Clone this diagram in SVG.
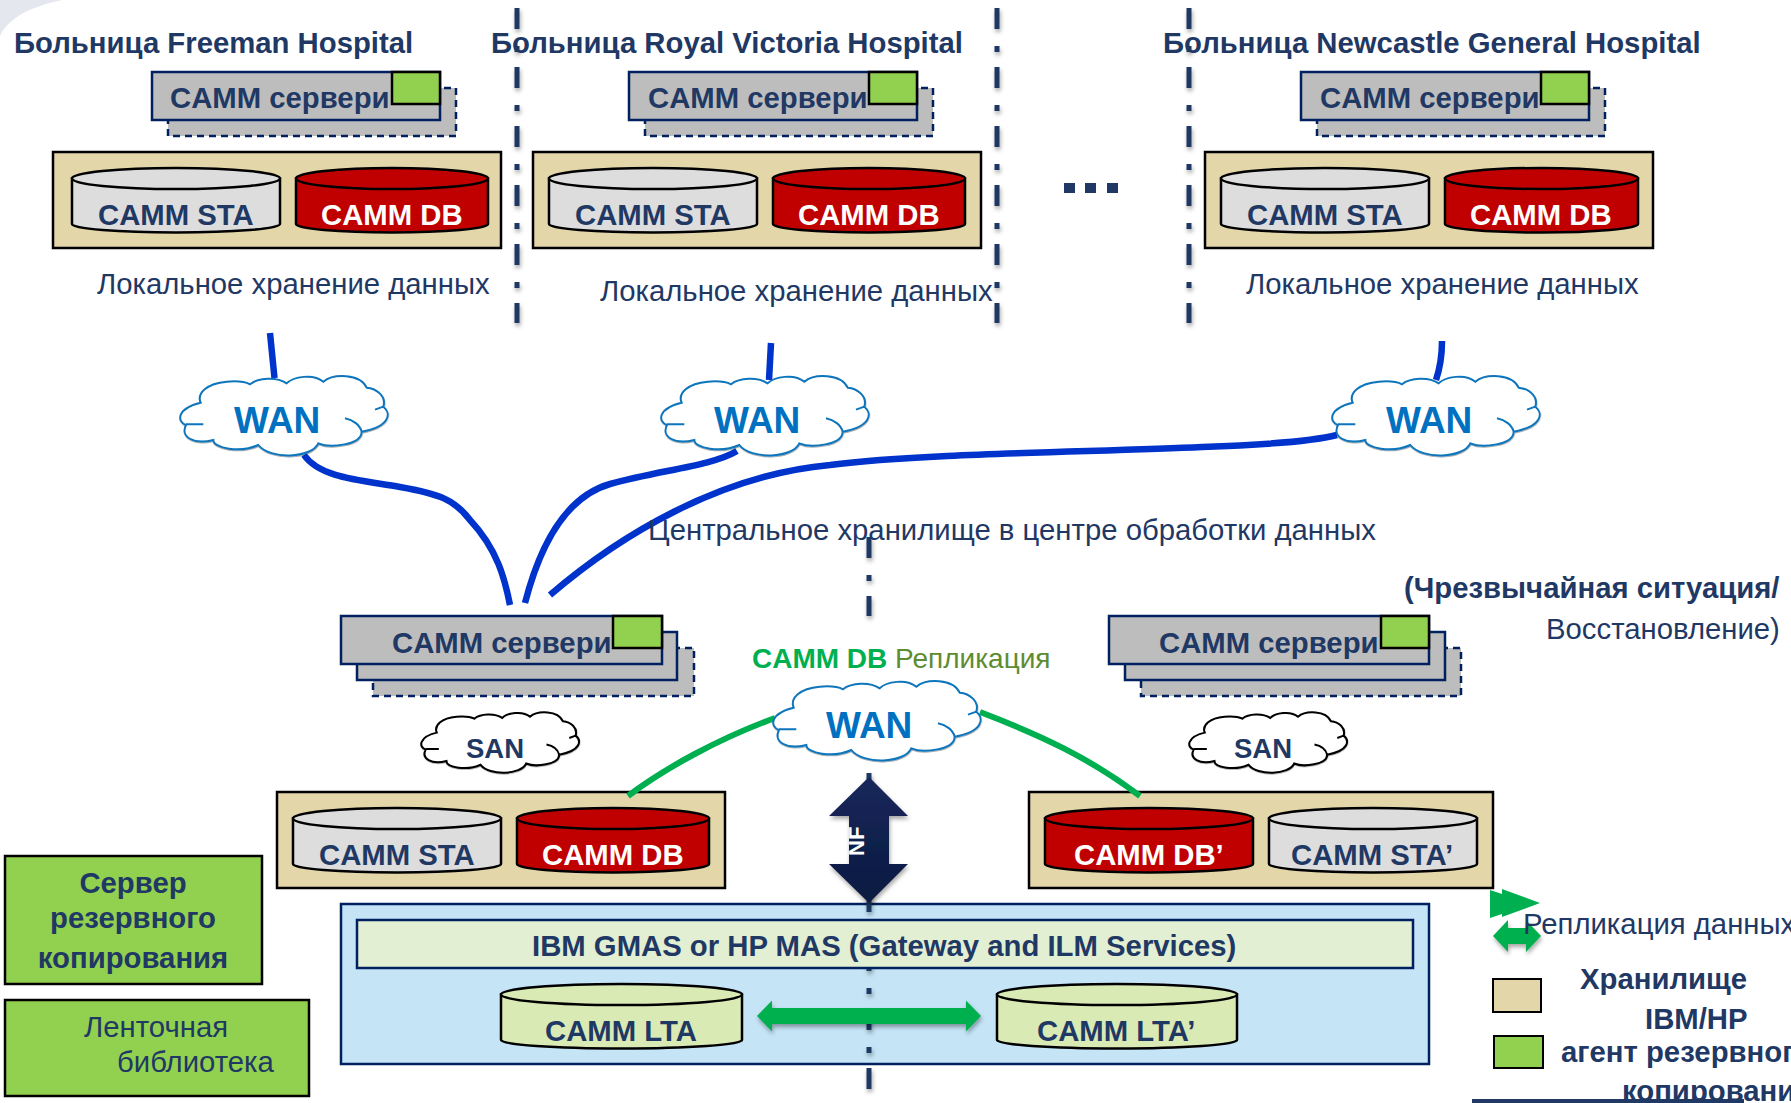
<svg xmlns="http://www.w3.org/2000/svg" width="1791" height="1103" viewBox="0 0 1791 1103">
<style>
text{font-family:"Liberation Sans",Arial,sans-serif;fill:#1F3864;transform:translateY(.7px)}
.b{font-weight:bold;font-size:29.3px}
.r{font-size:29.3px}
.w{fill:#fff}
.srv{fill:#BDBDBD;stroke:#002060;stroke-width:2.5}
.dsh{fill:#BDBDBD;stroke:#002060;stroke-width:2.5;stroke-dasharray:7 5}
.agt{fill:#92D050;stroke:#000;stroke-width:2.5}
.stor{fill:#E3D6A8;stroke:#000;stroke-width:2.5}
.sta{fill:#DDDDDD;stroke:#000;stroke-width:2.5}
.db{fill:#C00000;stroke:#000;stroke-width:2.5}
.lta{fill:#D9EAB5;stroke:#000;stroke-width:2.5}
.wan{fill:#fff;stroke:#0E75BC;stroke-width:6}
.san{fill:#fff;stroke:#000;stroke-width:8}
.wt{font-weight:bold;font-size:37px;fill:#0070C0}
.st{font-weight:bold;font-size:27.5px}
.blue{fill:none;stroke:#0033CC;stroke-width:6.5}
.grn{fill:none;stroke:#00B050;stroke-width:6}
.div{fill:none;stroke:#1F3864;stroke-width:5;stroke-dasharray:21 17 6 15}
</style>
<defs>
<filter id="sh" x="-30%" y="-30%" width="160%" height="170%"><feDropShadow dx="1" dy="3" stdDeviation="2" flood-color="#000" flood-opacity=".35"/></filter>
<linearGradient id="nav" x1="0" y1="0" x2="0" y2="1"><stop offset="0" stop-color="#14275A"/><stop offset="1" stop-color="#0E1A40"/></linearGradient>
<path id="cloud" d="M92,113C80,85 110,55 170,50C195,48 225,50 240,58C265,38 320,35 350,55C370,35 430,25 460,50C490,25 570,25 590,68C620,70 650,95 640,125C665,145 660,185 575,200C575,240 480,250 445,235C425,280 300,285 265,240C210,265 130,250 130,225C70,240 30,215 48,180C20,170 20,130 92,113ZM525,160C550,165 570,180 575,200M48,178L100,178M640,125L615,134"/>
</defs>
<rect width="1791" height="1103" fill="#fff"/>
<path d="M0,0H62C32,6 8,18 0,36Z" fill="#E4E7EE"/>

<g id="node-mas">
<rect x="341" y="904" width="1088" height="160" fill="#C5E4F6" stroke="#002060" stroke-width="2.5"/>
</g>

<g id="dividers" filter="url(#sh)">
<path class="div" d="M517,8V323"/>
<path class="div" d="M997,8V323"/>
<path class="div" d="M1189,8V323"/>
<path class="div" d="M869,537V616"/>
<path class="div" d="M869,773V1103"/>
</g>

<g id="ellipsis" fill="#1F3864">
<rect x="1064" y="183" width="11" height="10"/><rect x="1085" y="183" width="11" height="10"/><rect x="1107" y="183" width="11" height="10"/>
</g>

<g id="connectors">
<path class="blue" d="M270,333L274.500,378"/>
<path class="blue" d="M304,455C320,478 360,480 400,487C440,494 455,500 470,520C498,550 505,580 510,605"/>
<path class="blue" d="M771,343L769,380"/>
<path class="blue" d="M737,451C712,466 660,470 610,484C565,497 540,545 525,603"/>
<path class="blue" d="M1442,341C1442,355 1440,368 1436,380"/>
<path class="blue" d="M550,595C620,535 720,475 830,465C920,453 1100,452 1202,447C1260,445 1310,442 1337,435"/>
</g>

<g id="hospital-freeman">
<text class="b" x="14" y="52">Больница Freeman Hospital</text>
<rect class="dsh" x="168" y="88" width="288" height="48"/>
<rect class="srv" x="152" y="72" width="288" height="48"/>
<text class="b" x="170" y="107">CAMM сервери</text>
<rect class="agt" x="392" y="72" width="48" height="32"/>
<rect class="stor" x="53" y="152" width="448" height="96"/>
<path class="sta" d="M72,178.500V224A104,8.500 0 0 0 280,224V178.500Z"/><ellipse class="sta" cx="176" cy="178.500" rx="104" ry="10.500"/>
<text class="b" x="98" y="224">CAMM STA</text>
<path class="db" d="M296,178.500V224A96,8.500 0 0 0 488,224V178.500Z"/><ellipse class="db" cx="392" cy="178.500" rx="96" ry="10.500"/>
<text class="b w" x="321" y="224">CAMM DB</text>
<text class="r" x="97" y="293">Локальное хранение данных</text>
</g>

<g id="hospital-royal">
<text class="b" x="491" y="52">Больница Royal Victoria Hospital</text>
<rect class="dsh" x="645" y="88" width="288" height="48"/>
<rect class="srv" x="629" y="72" width="288" height="48"/>
<text class="b" x="648" y="107">CAMM сервери</text>
<rect class="agt" x="869" y="72" width="48" height="32"/>
<rect class="stor" x="533" y="152" width="448" height="96"/>
<path class="sta" d="M549,178.500V224A104,8.500 0 0 0 757,224V178.500Z"/><ellipse class="sta" cx="653" cy="178.500" rx="104" ry="10.500"/>
<text class="b" x="575" y="224">CAMM STA</text>
<path class="db" d="M773,178.500V224A96,8.500 0 0 0 965,224V178.500Z"/><ellipse class="db" cx="869" cy="178.500" rx="96" ry="10.500"/>
<text class="b w" x="798" y="224">CAMM DB</text>
<text class="r" x="600" y="300">Локальное хранение данных</text>
</g>

<g id="hospital-newcastle">
<text class="b" x="1163" y="52">Больница Newcastle General Hospital</text>
<rect class="dsh" x="1317" y="88" width="288" height="48"/>
<rect class="srv" x="1301" y="72" width="288" height="48"/>
<text class="b" x="1320" y="107">CAMM сервери</text>
<rect class="agt" x="1541" y="72" width="48" height="32"/>
<rect class="stor" x="1205" y="152" width="448" height="96"/>
<path class="sta" d="M1221,178.500V224A104,8.500 0 0 0 1429,224V178.500Z"/><ellipse class="sta" cx="1325" cy="178.500" rx="104" ry="10.500"/>
<text class="b" x="1247" y="224">CAMM STA</text>
<path class="db" d="M1445,178.500V224A96,8.500 0 0 0 1638,224V178.500Z"/><ellipse class="db" cx="1541.500" cy="178.500" rx="96.500" ry="10.500"/>
<text class="b w" x="1470" y="224">CAMM DB</text>
<text class="r" x="1246" y="293">Локальное хранение данных</text>
</g>

<g id="wan-1"><use href="#cloud" class="wan" filter="url(#sh)" transform="translate(170,365) scale(.3333)"/><text class="wt" x="234" y="432">WAN</text></g>
<g id="wan-2"><use href="#cloud" class="wan" filter="url(#sh)" transform="translate(651,365) scale(.3333)"/><text class="wt" x="714" y="432">WAN</text></g>
<g id="wan-3"><use href="#cloud" class="wan" filter="url(#sh)" transform="translate(1322,365) scale(.3333)"/><text class="wt" x="1386" y="432">WAN</text></g>

<text id="label-central" class="r" x="648" y="539">Центральное хранилище в центре обработки данных</text>

<g id="dc-primary">
<rect class="dsh" x="373" y="648" width="321" height="48"/>
<rect class="srv" x="357" y="632" width="320" height="48"/>
<rect class="srv" x="341" y="616" width="321" height="48"/>
<text class="b" x="392" y="652">CAMM сервери</text>
<rect class="agt" x="613" y="616" width="49" height="32"/>
<rect class="stor" x="277" y="792" width="448" height="96"/>
<path class="sta" d="M293,818.500V864A104,8.500 0 0 0 501,864V818.500Z"/><ellipse class="sta" cx="397" cy="818.500" rx="104" ry="10.500"/>
<text class="b" x="319" y="864">CAMM STA</text>
<path class="db" d="M517,818.500V864A96,8.500 0 0 0 709,864V818.500Z"/><ellipse class="db" cx="613" cy="818.500" rx="96" ry="10.500"/>
<text class="b w" x="542" y="864">CAMM DB</text>
</g>

<g id="dc-recovery">
<rect class="dsh" x="1141" y="648" width="320" height="48"/>
<rect class="srv" x="1125" y="632" width="320" height="48"/>
<rect class="srv" x="1109" y="616" width="320" height="48"/>
<text class="b" x="1159" y="652">CAMM сервери</text>
<rect class="agt" x="1381" y="616" width="48" height="32"/>
<rect class="stor" x="1029" y="792" width="464" height="96"/>
<path class="db" d="M1045,818.500V864A104,8.500 0 0 0 1253,864V818.500Z"/><ellipse class="db" cx="1149" cy="818.500" rx="104" ry="10.500"/>
<text class="b w" x="1074" y="864">CAMM DB’</text>
<path class="sta" d="M1269,818.500V864A104,8.500 0 0 0 1477,864V818.500Z"/><ellipse class="sta" cx="1373" cy="818.500" rx="104" ry="10.500"/>
<text class="b" x="1291" y="864">CAMM STA’</text>
</g>

<g id="connectors-replication">
<path class="grn" d="M628,796C665,768 720,738 775,718"/>
<path class="grn" d="M980,712C1040,735 1090,758 1140,796"/>
</g>

<g id="san-1"><use href="#cloud" class="san" filter="url(#sh)" transform="translate(413.500,704) scale(.2533)"/><text class="st" x="466" y="757">SAN</text></g>
<g id="san-2"><use href="#cloud" class="san" filter="url(#sh)" transform="translate(1181.500,704) scale(.2533)"/><text class="st" x="1234" y="757">SAN</text></g>

<g id="wan-center"><use href="#cloud" class="wan" filter="url(#sh)" transform="translate(763,670) scale(.3333)"/><text class="wt" x="826" y="737">WAN</text></g>

<text id="label-replication" x="752" y="667" font-size="28"><tspan font-weight="bold" style="fill:#00B050">CAMM DB </tspan><tspan style="fill:#5E8C31">Репликация</tspan></text>

<g id="label-emergency">
<text class="b" x="1404" y="597">(Чрезвычайная ситуация/</text>
<text class="r" x="1546" y="638">Восстановление)</text>
</g>

<g id="nfs-arrow">
<polygon points="869,777 908,816 889,816 889,864 908,864 869,903 829,864 849,864 849,816 829,816" fill="url(#nav)" filter="url(#sh)"/>
<g transform="translate(863,856) rotate(-90)"><text font-size="22" font-weight="bold" style="fill:#fff">NF</text></g>
</g>

<g id="node-gateway">
<rect x="357" y="920" width="1056" height="48" fill="#E2EFD3" stroke="#002060" stroke-width="2.5"/>
<text class="b" x="532" y="955">IBM GMAS or HP MAS (Gateway and ILM Services)</text>
</g>

<g id="lta-1">
<path class="lta" d="M501,994.500V1040A120.500,8.500 0 0 0 742,1040V994.500Z"/><ellipse class="lta" cx="621.500" cy="994.500" rx="120.500" ry="10.500"/>
<text class="b" x="545" y="1040">CAMM LTA</text>
</g>
<g id="lta-2">
<path class="lta" d="M997,994.500V1040A120,8.500 0 0 0 1237,1040V994.500Z"/><ellipse class="lta" cx="1117" cy="994.500" rx="120" ry="10.500"/>
<text class="b" x="1037" y="1040">CAMM LTA’</text>
</g>

<polygon id="lta-arrow" points="757,1016 772,1000.500 772,1008 966,1008 966,1000.500 981,1016 966,1031.500 966,1024 772,1024 772,1031.500" fill="#00B050" filter="url(#sh)"/>

<g id="backup-server">
<rect x="5" y="856" width="257" height="128" fill="#92D050" stroke="#000" stroke-width="2.500"/>
<text class="b" text-anchor="middle" x="133" y="892">Сервер</text>
<text class="b" text-anchor="middle" x="133" y="927">резервного</text>
<text class="b" text-anchor="middle" x="133" y="967">копирования</text>
</g>
<g id="tape-library">
<rect x="5" y="1000" width="304" height="96" fill="#92D050" stroke="#000" stroke-width="2.500"/>
<text class="r" x="84" y="1036">Ленточная</text>
<text class="r" x="117" y="1071">библиотека</text>
</g>

<g id="legend">
<polygon points="1490,890 1502,894 1502,889 1540,903 1502,917 1502,914 1490,918" fill="#00B050"/>
<polygon points="1493,936 1508,920 1508,928 1526,928 1526,920 1541,936 1526,952 1526,944 1508,944 1508,952" fill="#00B050" filter="url(#sh)"/>
<text class="r" x="1523" y="933">Репликация данных</text>
<rect x="1493" y="979" width="48" height="33" fill="#E3D6A8" stroke="#000" stroke-width="2"/>
<text class="b" x="1580" y="988">Хранилище</text>
<text class="b" x="1645" y="1028">IBM/HP</text>
<rect x="1494" y="1036" width="49" height="32" fill="#92D050" stroke="#000" stroke-width="2"/>
<text class="b" x="1561" y="1061">агент резервного</text>
<rect x="1472" y="1099" width="272" height="4" fill="#1F3864"/>
<text class="b" x="1622" y="1100">копирования</text>
</g>
</svg>
